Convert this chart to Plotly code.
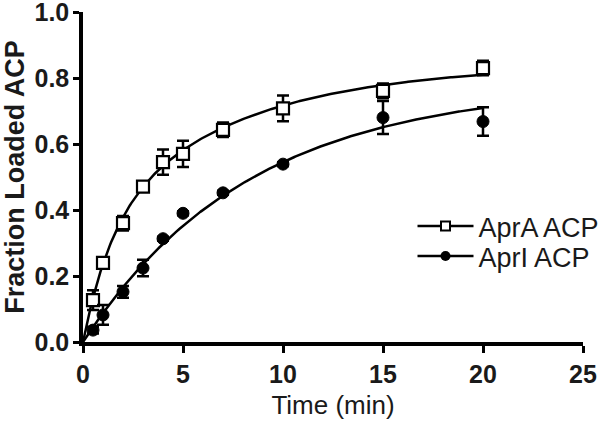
import numpy as np
import plotly.graph_objects as go

# Data
time_min = [0.5, 1, 2, 3, 4, 5, 7, 10, 15, 20]
apra_mean = [0.127, 0.240, 0.360, 0.471, 0.545, 0.570, 0.643, 0.708, 0.761, 0.830]
apra_sd = [0.030, 0.010, 0.022, 0.016, 0.038, 0.040, 0.022, 0.039, 0.022, 0.022]
apri_mean = [0.036, 0.082, 0.152, 0.224, 0.313, 0.390, 0.452, 0.539, 0.680, 0.668]
apri_sd = [0.010, 0.030, 0.018, 0.025, 0.006, 0.006, 0.006, 0.006, 0.050, 0.043]

# Fitted model parameters (two-phase / one-phase association)
apra_fast_span, apra_fast_k = 0.34, 0.70
apra_slow_span, apra_slow_k = 0.50, 0.14
apri_ymax, apri_k = 0.78, 0.12

x_ticks = [0, 5, 10, 15, 20, 25]
y_ticks = [0.0, 0.2, 0.4, 0.6, 0.8, 1.0]

t_fit = np.linspace(0, max(time_min), 300)
apra_fit = apra_fast_span * (1 - np.exp(-apra_fast_k * t_fit)) + apra_slow_span * (1 - np.exp(-apra_slow_k * t_fit))
apri_fit = apri_ymax * (1 - np.exp(-apri_k * t_fit))

FONT = "Arial, Liberation Sans, sans-serif"
INK = "#1a1a1a"

fig = go.Figure()
fig.add_trace(go.Scatter(x=t_fit, y=apra_fit, mode="lines", line=dict(color="black", width=2.5),
                         showlegend=False, hoverinfo="skip"))
fig.add_trace(go.Scatter(x=t_fit, y=apri_fit, mode="lines", line=dict(color="black", width=2.5),
                         showlegend=False, hoverinfo="skip"))
fig.add_trace(go.Scatter(x=time_min, y=apra_mean, mode="markers",
                         error_y=dict(type="data", array=apra_sd, color="black", thickness=2.5, width=6),
                         marker=dict(symbol="square", size=12, color="white", line=dict(color="black", width=2.2)),
                         showlegend=False))
fig.add_trace(go.Scatter(x=time_min, y=apri_mean, mode="markers",
                         error_y=dict(type="data", array=apri_sd, color="black", thickness=2.5, width=6),
                         marker=dict(symbol="circle", size=12, color="black", line=dict(color="black", width=1)),
                         showlegend=False))
# legend entries (two legends so the row spacing can match)
fig.add_trace(go.Scatter(x=[None], y=[None], mode="lines+markers", name="AprA ACP", legend="legend",
                         line=dict(color="black", width=2.5),
                         marker=dict(symbol="square", size=9, color="white", line=dict(color="black", width=2))))
fig.add_trace(go.Scatter(x=[None], y=[None], mode="lines+markers", name="AprI ACP", legend="legend2",
                         line=dict(color="black", width=2.5),
                         marker=dict(symbol="circle", size=10, color="black")))

leg_common = dict(xanchor="left", yanchor="middle", font=dict(size=27, family=FONT, color=INK),
                  bgcolor="rgba(0,0,0,0)", itemwidth=56, borderwidth=0)

fig.update_layout(
    width=600, height=423,
    margin=dict(l=83, r=17, t=12, b=81, autoexpand=False),
    paper_bgcolor="white", plot_bgcolor="white",
    font=dict(family=FONT, color=INK),
    legend=dict(x=0.659, y=(342 - 226.5) / 330, **leg_common),
    legend2=dict(x=0.659, y=(342 - 256.5) / 330, **leg_common),
    showlegend=True,
)
fig.update_xaxes(range=[0, 25], tickvals=x_ticks, ticktext=[str(v) for v in x_ticks],
                 showgrid=False, zeroline=False, showline=True, linecolor="black", linewidth=3.5,
                 ticks="outside", ticklen=7, tickwidth=3, tickcolor="black", automargin=False,
                 ticklabeloverflow="allow",
                 tickfont=dict(size=25, family=FONT, color=INK, weight="bold"),
                 title=dict(text="Time (min)", font=dict(size=26, family=FONT, color=INK), standoff=10))
fig.update_yaxes(range=[0, 1], tickvals=y_ticks, ticktext=[f"{v:.1f}" for v in y_ticks],
                 showgrid=False, zeroline=False, showline=True, linecolor="black", linewidth=3.5,
                 ticks="outside", ticklen=6, tickwidth=3, tickcolor="black", automargin=False,
                 ticklabeloverflow="allow", ticklabelstandoff=-1,
                 tickfont=dict(size=25, family=FONT, color=INK, weight="bold"),
                 title=dict(text="Fraction Loaded ACP", font=dict(size=27, family=FONT, color=INK, weight="bold"), standoff=8))

fig.write_html("out.html", config={"displayModeBar": False},
               post_script="document.body.style.margin='0';document.body.style.padding='0';")
